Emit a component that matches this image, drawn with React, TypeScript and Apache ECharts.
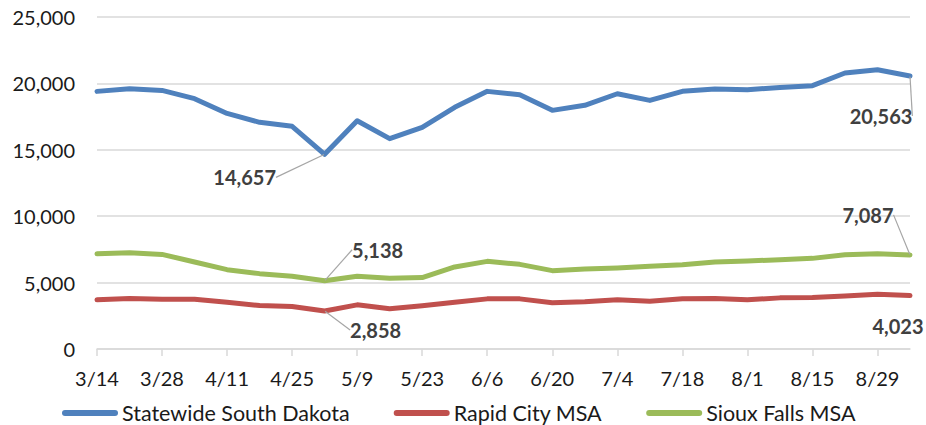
import React, { useEffect, useRef } from "react";
import * as echarts from "echarts";

const categories = [
  "3/14", "3/21", "3/28", "4/4", "4/11", "4/18", "4/25", "5/2", "5/9", "5/16",
  "5/23", "5/30", "6/6", "6/13", "6/20", "6/27", "7/4", "7/11", "7/18", "7/25",
  "8/1", "8/8", "8/15", "8/22", "8/29", "9/5",
];

const statewide = [
  19400, 19600, 19470, 18850, 17740, 17070, 16770, 14657, 17190, 15840,
  16690, 18200, 19400, 19150, 17970, 18350, 19220, 18720, 19400, 19570,
  19520, 19700, 19830, 20780, 21030, 20563,
];

const rapidCity = [
  3700, 3800, 3750, 3750, 3525, 3275, 3200, 2858, 3325, 3025,
  3250, 3525, 3775, 3775, 3475, 3550, 3700, 3600, 3775, 3800,
  3700, 3850, 3875, 4000, 4125, 4023,
];

const siouxFalls = [
  7175, 7250, 7125, 6550, 5975, 5675, 5475, 5138, 5475, 5325,
  5375, 6175, 6600, 6375, 5900, 6025, 6100, 6225, 6350, 6550,
  6625, 6725, 6825, 7100, 7175, 7087,
];

const seriesNames = ["Statewide South Dakota", "Rapid City MSA", "Sioux Falls MSA"];
const colors = ["#4f81bd", "#c0504d", "#9bbb59"];
const labeledIndices = [7, 25];

// label offsets (px) relative to the data point, per series / data index
const labelOffsets: Record<number, Record<number, [number, number]>> = {
  0: { 7: [-80, 23], 25: [-29, 40] },
  1: { 7: [51, 19], 25: [-12, 30] },
  2: { 7: [53, -31], 25: [-42, -40] },
};
const hideLeader: Record<number, number[]> = { 0: [], 1: [25], 2: [] };

const fmt = (v: number) => v.toLocaleString("en-US");
const FONT = "Lato, 'Noto Sans', sans-serif";

export default function App() {
  const ref = useRef<HTMLDivElement>(null);

  useEffect(() => {
    if (!ref.current) return;
    const chart = echarts.init(ref.current, undefined, { renderer: "svg" });

    const buildData = (vals: number[], si: number) =>
      vals.map((v, i) =>
        labeledIndices.includes(i)
          ? {
              value: v,
              label: { show: true },
              labelLine: { show: !hideLeader[si].includes(i) },
            }
          : v
      );

    const allVals = [statewide, rapidCity, siouxFalls];
    const legendIcon =
      "path://M3,0 L53,0 A3,3 0 0 1 53,6 L3,6 A3,3 0 0 1 3,0 Z";

    chart.setOption({
      animation: false,
      grid: { left: 97, right: 16, top: 17, bottom: 76, containLabel: false },
      xAxis: {
        type: "category",
        data: categories,
        boundaryGap: false,
        axisLine: { show: true, lineStyle: { color: "#d9d9d9", width: 1.5 } },
        axisTick: {
          show: true,
          interval: 1,
          length: 7,
          lineStyle: { color: "#d9d9d9", width: 1.5 },
        },
        axisLabel: {
          interval: 1,
          margin: 19,
          color: "#1a1a1a",
          fontSize: 20,
          fontFamily: FONT,
        },
        splitLine: { show: false },
      },
      yAxis: {
        type: "value",
        min: 0,
        max: 25000,
        interval: 5000,
        axisLine: { show: false },
        axisTick: { show: false },
        axisLabel: {
          margin: 22,
          color: "#1a1a1a",
          fontSize: 20,
          fontFamily: FONT,
          formatter: (v: number) => fmt(v),
        },
        splitLine: { show: true, lineStyle: { color: "#d9d9d9", width: 1.5 } },
      },
      legend: {
        left: 62,
        top: 402,
        padding: 0,
        itemGap: 44,
        itemWidth: 56,
        itemHeight: 6,
        data: seriesNames.map((n) => ({ name: n, icon: legendIcon })),
        textStyle: {
          color: "#1a1a1a",
          fontSize: 21.5,
          lineHeight: 22,
          fontFamily: FONT,
          padding: [0, 0, 0, -1],
        },
      },
      series: seriesNames.map((name, si) => ({
        name,
        type: "line",
        data: buildData(allVals[si], si),
        color: colors[si],
        lineStyle: { width: 5, color: colors[si], cap: "round", join: "round" },
        itemStyle: { color: colors[si] },
        showSymbol: true,
        showAllSymbol: true,
        symbol: "circle",
        symbolSize: 1,
        silent: true,
        emphasis: { disabled: true },
        label: {
          show: false,
          fontFamily: FONT,
          fontSize: 20,
          fontWeight: "bold",
          color: "#404040",
          formatter: (p: any) => fmt(p.value),
        },
        labelLine: {
          show: true,
          lineStyle: { color: "#a6a6a6", width: 1.2 },
        },
        labelLayout: (params: any) => {
          const off = labelOffsets[si][params.dataIndex];
          if (!off) return {};
          const r = params.rect;
          return {
            x: r.x + r.width / 2 + off[0],
            y: r.y + r.height / 2 + off[1],
            align: "center",
            verticalAlign: "middle",
          };
        },
      })),
    });

    return () => chart.dispose();
  }, []);

  return (
    <div
      ref={ref}
      style={{ position: "fixed", left: 0, top: 0, width: 926, height: 425, background: "#fff" }}
    />
  );
}
